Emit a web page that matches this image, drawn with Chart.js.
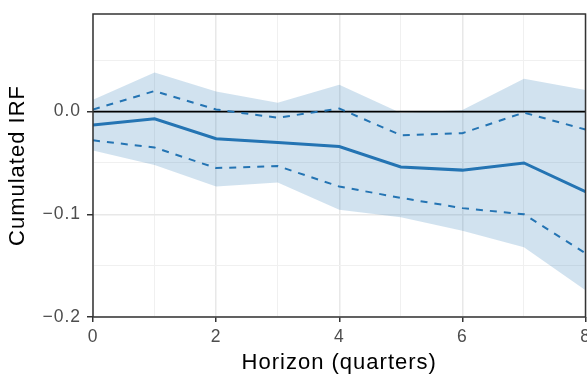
<!DOCTYPE html>
<html>
<head>
<meta charset="utf-8">
<script src="https://cdn.jsdelivr.net/npm/chart.js@4"></script>
<style>
  html, body { margin: 0; padding: 0; background: #fff; }
  #wrap { width: 587px; height: 377px; position: relative; }
</style>
</head>
<body>
<div id="wrap"><canvas id="irfChart"></canvas></div>
<script>
const horizons = [0, 1, 2, 3, 4, 5, 6, 7, 8];
const irf      = [-0.013, -0.007, -0.0265, -0.030, -0.034, -0.054, -0.057, -0.050, -0.078];
const upper68  = [0.002, 0.020, 0.002, -0.006, 0.003, -0.023, -0.021, -0.001, -0.0175];
const lower68  = [-0.028, -0.035, -0.055, -0.053, -0.073, -0.084, -0.094, -0.100, -0.138];
const upper90  = [0.0115, 0.038, 0.0195, 0.0085, 0.026, -0.0015, 0.0015, 0.032, 0.021];
const lower90  = [-0.038, -0.052, -0.073, -0.069, -0.0955, -0.103, -0.116, -0.132, -0.174];
const zeroLine = [0, 0, 0, 0, 0, 0, 0, 0, 0];

const blue = '#2474b3';
const pts = arr => horizons.map((h, i) => ({ x: h, y: arr[i] }));
const isMajorY = v => Math.abs(Math.round(v * 20)) % 2 === 0;

// ggplot-ish text is a bit wider than Liberation Sans
const spacing = {
    id: 'spacing',
    beforeLayout(chart) { chart.ctx.letterSpacing = '1px'; },
    beforeDraw(chart) { chart.ctx.letterSpacing = '1px'; }
};

// panel border on all four sides
const panelBorder = {
    id: 'panelBorder',
    afterDraw(chart) {
        const { ctx, chartArea: a } = chart;
        ctx.save();
        ctx.strokeStyle = '#333333';
        ctx.lineWidth = 1.5;
        ctx.strokeRect(a.left, a.top, a.right - a.left, a.bottom - a.top);
        ctx.restore();
    }
};

new Chart(document.getElementById('irfChart'), {
    type: 'line',
    data: {
        datasets: [
            { data: pts(irf), borderColor: blue, borderWidth: 3, pointRadius: 0, fill: false },
            { data: pts(upper68), borderColor: blue, borderWidth: 2, borderDash: [7, 7], pointRadius: 0, fill: false },
            { data: pts(lower68), borderColor: blue, borderWidth: 2, borderDash: [7, 7], pointRadius: 0, fill: false },
            { data: pts(zeroLine), borderColor: '#000000', borderWidth: 1.8, pointRadius: 0, fill: false },
            { data: pts(upper90), borderWidth: 0, pointRadius: 0, backgroundColor: 'rgba(36,116,179,0.21)', fill: '+1' },
            { data: pts(lower90), borderWidth: 0, pointRadius: 0, fill: false }
        ]
    },
    options: {
        responsive: true,
        maintainAspectRatio: false,
        animation: false,
        layout: { padding: { top: 14, right: 1.5, bottom: 0, left: 0 } },
        plugins: { legend: { display: false }, tooltip: { enabled: false } },
        scales: {
            x: {
                type: 'linear',
                min: 0,
                max: 8,
                border: { display: false },
                grid: {
                    color: c => c.tick.value % 2 === 0 ? '#e8e8e8' : '#f0f0f0',
                    lineWidth: c => c.tick.value % 2 === 0 ? 1.5 : 1,
                    tickColor: c => c.tick.value % 2 === 0 ? '#333333' : 'rgba(0,0,0,0)',
                    tickLength: 5,
                    tickWidth: 1.5
                },
                ticks: {
                    stepSize: 1,
                    padding: 5,
                    maxRotation: 0,
                    autoSkip: false,
                    color: '#4d4d4d',
                    font: { family: 'Liberation Sans', size: 17.5 },
                    callback: v => v % 2 === 0 ? String(v) : ''
                },
                title: {
                    display: true,
                    text: 'Horizon (quarters)',
                    color: '#000000',
                    font: { family: 'Liberation Sans', size: 22 },
                    padding: { top: 0, bottom: 1 }
                },
                afterFit(scale) {
                    scale.height = 60;
                    scale.paddingLeft = 0;
                    scale.paddingRight = 0;
                }
            },
            y: {
                min: -0.2,
                max: 0.095,
                border: { display: false },
                grid: {
                    color: c => isMajorY(c.tick.value) ? '#e8e8e8' : '#f0f0f0',
                    lineWidth: c => isMajorY(c.tick.value) ? 1.5 : 1,
                    tickColor: c => isMajorY(c.tick.value) ? '#333333' : 'rgba(0,0,0,0)',
                    tickLength: 6,
                    tickWidth: 1.5
                },
                ticks: {
                    stepSize: 0.05,
                    includeBounds: false,
                    padding: 6,
                    color: '#4d4d4d',
                    font: { family: 'Liberation Sans', size: 17.5 },
                    callback: v => {
                        if (!isMajorY(v)) return '';
                        const r = Math.round(v * 10) / 10;
                        return r === 0 ? '0.0' : '\u2212' + Math.abs(r).toFixed(1);
                    }
                },
                title: {
                    display: true,
                    text: 'Cumulated IRF',
                    color: '#000000',
                    font: { family: 'Liberation Sans', size: 22 },
                    padding: { top: 5, bottom: 0 }
                },
                afterFit(scale) {
                    scale.width = 93;
                    scale.paddingTop = 0;
                    scale.paddingBottom = 0;
                }
            }
        }
    },
    plugins: [spacing, panelBorder]
});
</script>
</body>
</html>
